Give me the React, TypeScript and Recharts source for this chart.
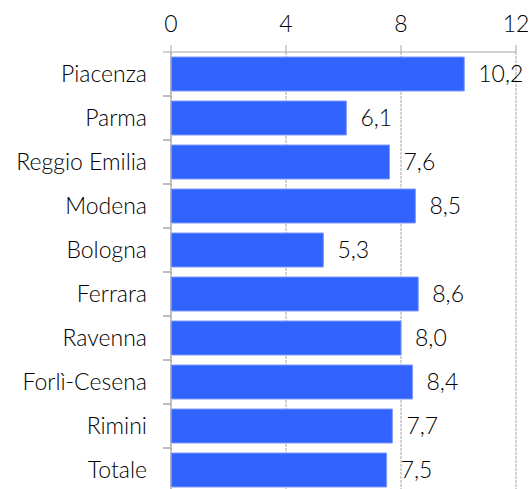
import React from 'react';
import { BarChart, Bar, XAxis, YAxis, CartesianGrid, LabelList } from 'recharts';

const provinces = [
  'Piacenza',
  'Parma',
  'Reggio Emilia',
  'Modena',
  'Bologna',
  'Ferrara',
  'Ravenna',
  'Forlì-Cesena',
  'Rimini',
  'Totale',
];
const values = [10.2, 6.1, 7.6, 8.5, 5.3, 8.6, 8.0, 8.4, 7.7, 7.5];
const xTicks = [0, 4, 8, 12];

const data = provinces.map((name, i) => ({ name, value: values[i] }));

const FONT = 'Lato, "Open Sans", sans-serif';
const GRID = '#a6a6a6';
const BAND = 44;
const FS = 23;

const formatValue = (v: number): string => v.toFixed(1).replace('.', ',');

// etichetta categoria + tacca sul bordo della fascia (stile Excel)
const CategoryTick = (props: any) => {
  const { x, y, payload } = props;
  return (
    <g>
      <line x1={x + 16} x2={x + 24} y1={y - BAND / 2} y2={y - BAND / 2} stroke={GRID} />
      <line x1={x + 16} x2={x + 24} y1={y + BAND / 2} y2={y + BAND / 2} stroke={GRID} />
      <text x={x} y={y} dy="0.36em" textAnchor="end" fill="#000" fontSize={FS} fontFamily={FONT} fontWeight={300}>
        {payload.value}
      </text>
    </g>
  );
};

export default function App() {
  return (
    <div style={{ position: 'absolute', left: 0, top: 0, width: 532, height: 489, overflow: 'hidden', background: '#fff' }}>
      <BarChart
        width={532}
        height={492}
        data={data}
        layout="vertical"
        margin={{ top: 0, right: 16, bottom: 0, left: 0 }}
        barCategoryGap={5}
      >
        <CartesianGrid horizontal={false} vertical stroke={GRID} strokeDasharray="3 1" />
        <XAxis
          type="number"
          orientation="top"
          domain={[0, 12]}
          ticks={xTicks}
          height={52}
          interval={0}
          tickSize={7}
          tickMargin={13}
          axisLine={{ stroke: GRID }}
          tickLine={{ stroke: GRID }}
          tick={{ fill: '#000', fontSize: FS, fontFamily: FONT, fontWeight: 300 }}
        />
        <YAxis
          type="category"
          dataKey="name"
          width={171}
          interval={0}
          tickSize={0}
          tickMargin={24}
          tickLine={false}
          axisLine={{ stroke: GRID }}
          tick={<CategoryTick />}
        />
        <Bar dataKey="value" fill="#3363ff" stroke="#7f9bff" strokeWidth={1} isAnimationActive={false}>
          <LabelList
            dataKey="value"
            position="right"
            offset={14}
            formatter={(v: any) => formatValue(Number(v))}
            fill="#000"
            fontSize={FS}
            fontFamily={FONT}
            fontWeight={300}
          />
        </Bar>
      </BarChart>
    </div>
  );
}
